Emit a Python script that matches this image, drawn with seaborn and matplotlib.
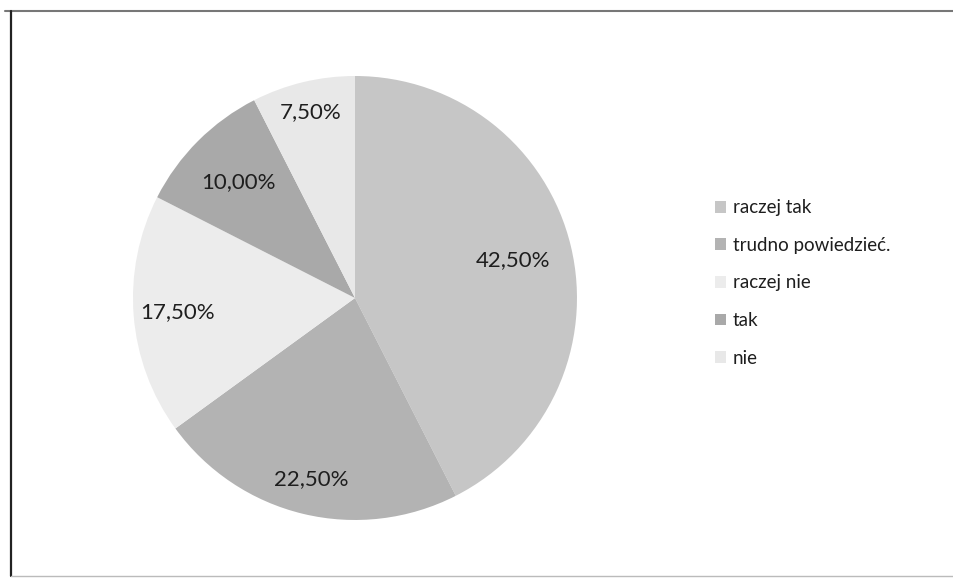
import matplotlib.pyplot as plt
import seaborn as sns
import numpy as np
from matplotlib.lines import Line2D
from matplotlib.patches import Patch

# Dane z wykresu
kategorie = ['raczej tak', 'trudno powiedzieć.', 'raczej nie', 'tak', 'nie']
wartosci = [42.5, 22.5, 17.5, 10.0, 7.5]
etykiety = ['42,50%', '22,50%', '17,50%', '10,00%', '7,50%']

kolory = ['#c6c6c6', '#b3b3b3', '#ececec', '#a9a9a9', '#e8e8e8']
odleglosci = [0.73, 0.84, 0.80, 0.74, 0.86]

sns.set_style('white')
plt.rcParams['font.family'] = ['Lato', 'DejaVu Sans']

fig = plt.figure(figsize=(9.54, 5.81), dpi=100)

# Ramka skanu
fig.add_artist(Line2D([0.005, 1.0], [0.981, 0.981], color='#777777', lw=1.5,
                      transform=fig.transFigure))
fig.add_artist(Line2D([0.0115, 0.0115], [0.0086, 0.981], color='#222222', lw=1.6,
                      transform=fig.transFigure))
fig.add_artist(Line2D([0.0115, 1.0], [0.0086, 0.0086], color='#bbbbbb', lw=1.0,
                      transform=fig.transFigure))

ax = fig.add_axes([0.1394, 0.105, 0.4654, 0.7642])
wedges, _ = ax.pie(wartosci, colors=kolory, startangle=90, counterclock=False,
                   radius=1.0, wedgeprops=dict(linewidth=0))
ax.set_xlim(-1, 1)
ax.set_ylim(-1, 1)
ax.set_aspect('equal')
ax.axis('off')

# Etykiety procentowe
for w, lab, d in zip(wedges, etykiety, odleglosci):
    kat = np.deg2rad((w.theta1 + w.theta2) / 2)
    ax.text(d * np.cos(kat), d * np.sin(kat), lab, ha='center', va='center',
            fontsize=16, color='#1e1e1e')

uchwyty = [Patch(facecolor=k, edgecolor='none') for k in kolory]
fig.legend(uchwyty, kategorie, loc='center left', bbox_to_anchor=(0.732, 0.513),
           frameon=False, fontsize=13.5, handlelength=0.6, handleheight=0.6,
           handletextpad=0.35, labelspacing=1.1, labelcolor='#1e1e1e')

fig.savefig('out.png', dpi=100)
